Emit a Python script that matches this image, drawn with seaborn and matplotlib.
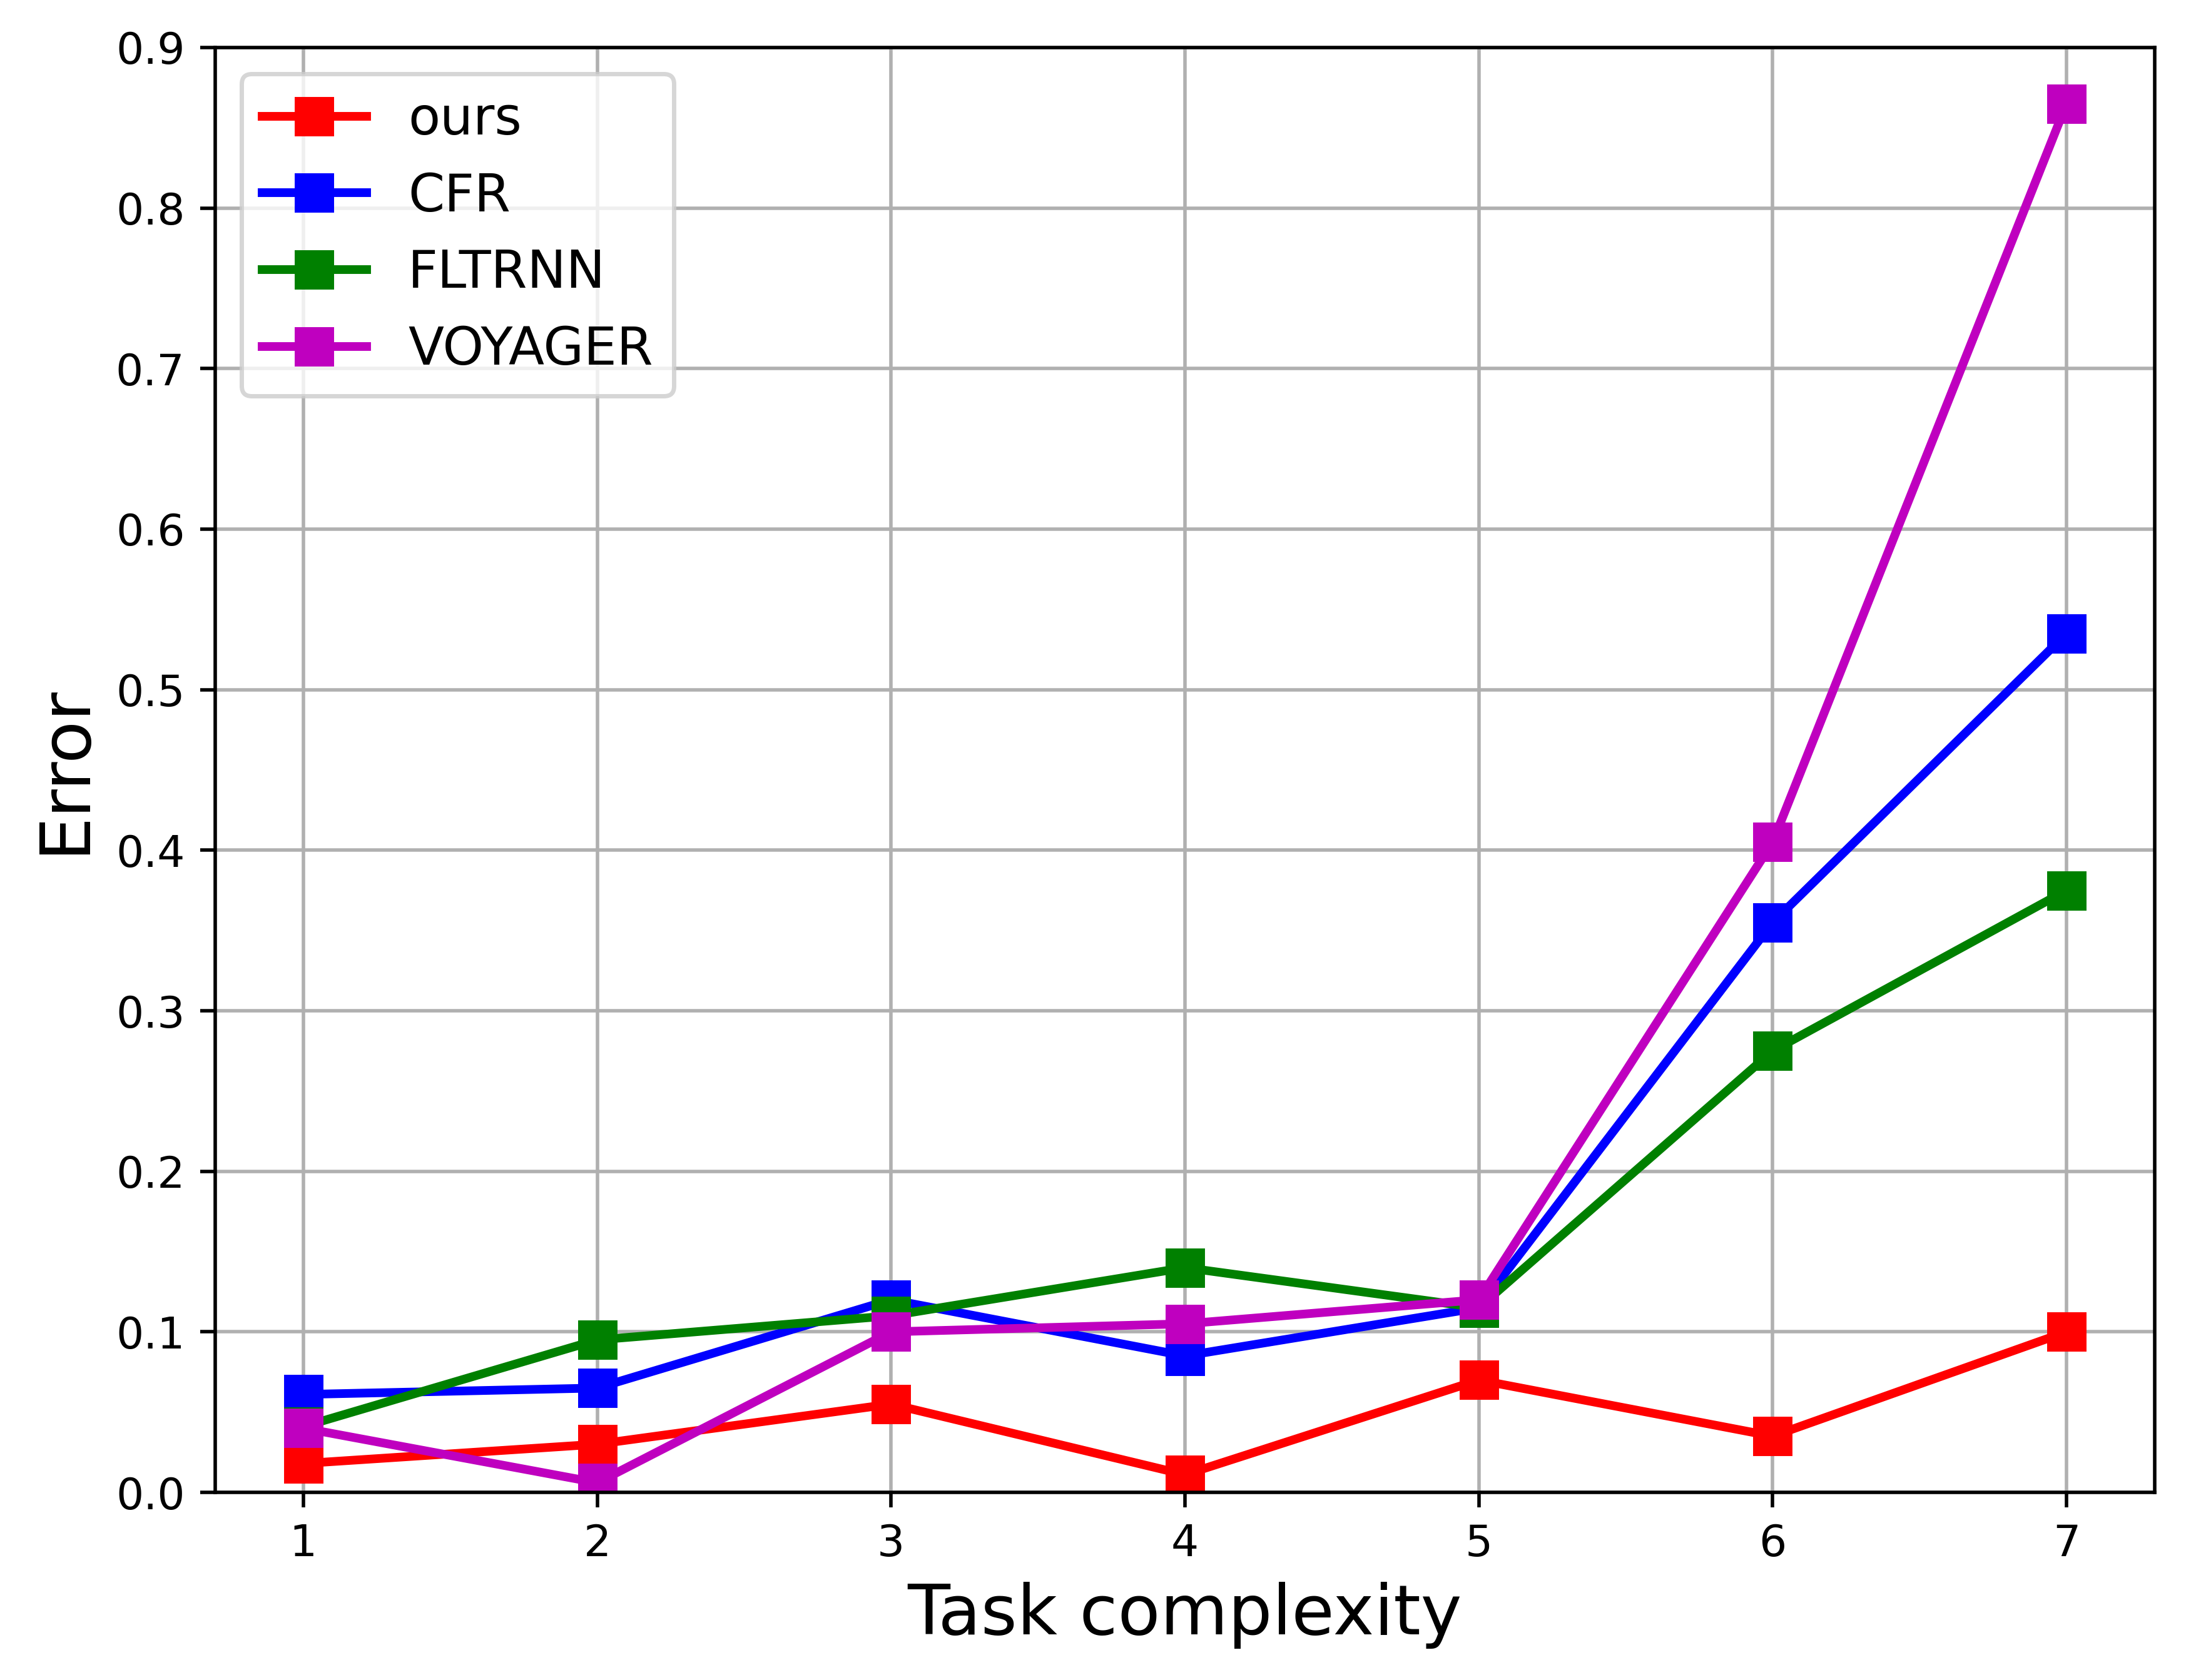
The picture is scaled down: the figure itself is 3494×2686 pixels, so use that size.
import matplotlib
matplotlib.use("Agg")
import matplotlib.pyplot as plt
import seaborn as sns
import pandas as pd

complexity = [1, 2, 3, 4, 5, 6, 7]
ours = [0.018, 0.03, 0.055, 0.011, 0.07, 0.035, 0.10]
cfr = [0.061, 0.065, 0.12, 0.085, 0.115, 0.355, 0.535]
fltrnn = [0.041, 0.095, 0.11, 0.14, 0.115, 0.275, 0.375]
voyager = [0.04, 0.006, 0.10, 0.105, 0.12, 0.405, 0.865]

series_names = ["ours", "CFR", "FLTRNN", "VOYAGER"]
series_values = [ours, cfr, fltrnn, voyager]
series_colors = ["r", "b", "g", "m"]

fig = plt.figure(figsize=(6.988, 5.372), dpi=500)
ax = fig.add_axes([344 / 3494, 1 - 2386 / 2686, 3100 / 3494, 2310 / 2686])

for name, vals, col in zip(series_names, series_values, series_colors):
    df = pd.DataFrame({"x": complexity, "y": vals})
    sns.lineplot(data=df, x="x", y="y", ax=ax, color=col, marker="s",
                 markersize=8, markeredgewidth=1.0, markeredgecolor=col,
                 linewidth=2, label=name)

ax.set_ylim(0, 0.9)
ax.set_xlim(0.7, 7.3)
ax.set_xticks(complexity)
ax.set_yticks([i / 10 for i in range(10)])
ax.grid(True)
ax.set_xlabel("Task complexity", fontsize=16)
ax.set_ylabel("Error", fontsize=16)
ax.legend(loc="upper left", fontsize=12)

fig.savefig("out.png", dpi=500)
